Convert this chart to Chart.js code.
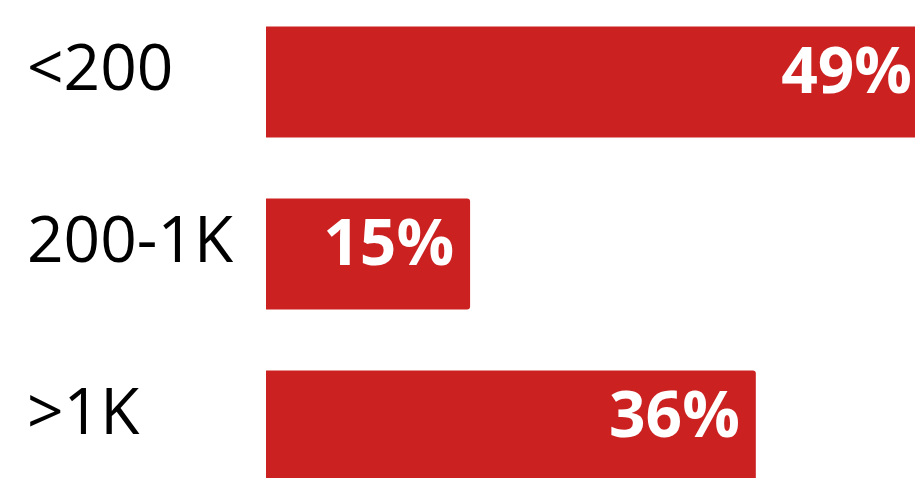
<!DOCTYPE html>
<html>
<head>
<meta charset="utf-8">
<script src="https://cdn.jsdelivr.net/npm/chart.js@4"></script>
<style>
  html, body { margin: 0; padding: 0; background: #fff; overflow: hidden; }
  #wrap { position: absolute; left: 0; top: -4px; width: 915px; height: 516px; }
</style>
</head>
<body>
<div id="wrap"><canvas id="chart"></canvas></div>
<script>
// Dados do gráfico
const categories = ['<200', '200-1K', '>1K'];
const shares = [49, 15, 36];
const valueLabels = ['49%', '15%', '36%'];

const barRed = '#cc2121';

// Rótulos dentro das barras, alinhados à direita
const valueLabelPlugin = {
  id: 'valueLabels',
  afterDatasetsDraw(chart) {
    const ctx = chart.ctx;
    const meta = chart.getDatasetMeta(0);
    const area = chart.chartArea;
    ctx.save();
    ctx.font = 'bold 64px "Open Sans"';
    ctx.fillStyle = '#fff';
    ctx.textAlign = 'right';
    ctx.textBaseline = 'middle';
    meta.data.forEach((bar, i) => {
      const p = bar.getProps(['x', 'y'], true);
      const right = Math.min(p.x - 16, area.right - 3);
      ctx.fillText(valueLabels[i], right, p.y - 7);
    });
    ctx.restore();
  }
};

new Chart(document.getElementById('chart'), {
  type: 'bar',
  data: {
    labels: categories,
    datasets: [{
      data: shares,
      backgroundColor: barRed,
      borderRadius: 3,
      borderSkipped: 'start',
      categoryPercentage: 1,
      barPercentage: 0.645
    }]
  },
  options: {
    indexAxis: 'y',
    responsive: true,
    maintainAspectRatio: false,
    animation: false,
    layout: { padding: { left: 27, right: 0, top: 0, bottom: 0 } },
    plugins: {
      legend: { display: false },
      tooltip: { enabled: false }
    },
    scales: {
      x: {
        display: false,
        min: 0,
        max: 47.7
      },
      y: {
        border: { display: false },
        grid: { display: false },
        ticks: {
          color: '#000',
          font: { family: 'Open Sans', size: 64 },
          crossAlign: 'far',
          labelOffset: -10,
          padding: 0
        },
        afterFit(scale) {
          scale.width = 239;
          // sem margem extra em cima/embaixo para os rótulos
          scale.paddingTop = 0;
          scale.paddingBottom = 0;
        }
      }
    }
  },
  plugins: [valueLabelPlugin]
});
</script>
</body>
</html>
